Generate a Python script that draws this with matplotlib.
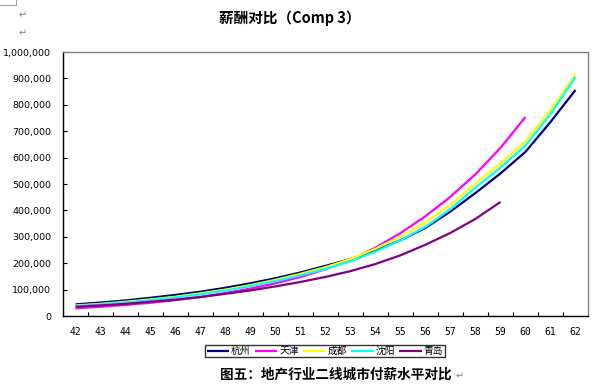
import matplotlib
matplotlib.use("Agg")
import matplotlib.pyplot as plt
from matplotlib.ticker import FuncFormatter, FixedLocator
from matplotlib.lines import Line2D

plt.rcParams['font.family'] = ['Noto Sans CJK SC', 'DejaVu Sans']

# ages on the category axis
ages = list(range(42, 63))

# salary values (one list per city)
hangzhou = [44000, 51000, 59000, 69000, 80000, 92000, 107000, 124000, 143000, 165000,
            190000, 216000, 248000, 287000, 334000, 396000, 466000, 540000, 622000, 735000, 856000]
tianjin = [29000, 35000, 42000, 50000, 60000, 72000, 87000, 104000, 124000, 148000,
           177000, 213000, 259000, 314000, 378000, 452000, 537000, 637000, 754000]
chengdu = [40000, 46000, 54000, 63000, 73000, 86000, 100000, 117000, 137000, 160000,
           185000, 216000, 255000, 301000, 355000, 422000, 503000, 578000, 662000, 780000, 917000]
shenyang = [38000, 44000, 51000, 60000, 70000, 82000, 96000, 113000, 132000, 154000,
            178000, 207000, 244000, 287000, 338000, 405000, 487000, 562000, 646000, 765000, 905000]
qingdao = [35000, 40000, 46000, 54000, 62000, 72000, 84000, 97000, 112000, 129000,
           148000, 170000, 197000, 230000, 270000, 315000, 368000, 432000]

names = ['杭州', '天津', '成都', '沈阳', '青岛']
colors = ['#000080', '#FF00FF', '#FFFF00', '#00FFFF', '#800080']
series = [hangzhou, tianjin, chengdu, shenyang, qingdao]

W, H = 601, 391
fig = plt.figure(figsize=(W / 100, H / 100), dpi=100)
ax = fig.add_axes([63 / W, (H - 316) / H, 525 / W, 264 / H])

for name, col, vals in zip(names, colors, series):
    ax.plot(ages[:len(vals)], vals, color=col, lw=1.6, label=name, solid_capstyle='butt')

ax.set_xlim(41.5, 62.5)
ax.set_ylim(0, 1000000)

# category labels without ticks, ticks on the category borders
ax.set_xticks(ages)
ax.set_xticklabels([str(a) for a in ages], fontsize=7, family='DejaVu Sans Mono')
ax.tick_params(axis='x', which='major', length=0, pad=8)
ax.xaxis.set_minor_locator(FixedLocator([a + 0.5 for a in range(41, 62)]))
ax.tick_params(axis='x', which='minor', direction='in', length=3, width=0.8)

ax.set_yticks(range(0, 1000001, 100000))
ax.yaxis.set_major_formatter(FuncFormatter(lambda v, p: f"{int(v):,}"))
ax.tick_params(axis='y', direction='in', length=3, width=0.8, labelsize=6.8, pad=8.6)
for lab in ax.get_yticklabels():
    lab.set_family('DejaVu Sans')

for s in ['left', 'bottom']:
    ax.spines[s].set_color('black')
    ax.spines[s].set_linewidth(1.0)
for s in ['top', 'right']:
    ax.spines[s].set_color('#808080')
    ax.spines[s].set_linewidth(1.0)

fig.text(290 / W, 1 - 18 / H, '薪酬对比（Comp 3）', ha='center', va='center',
         fontsize=10.5, fontweight='bold')

leg = fig.legend(loc='center', bbox_to_anchor=(325 / W, 1 - 351 / H), ncol=5,
                 fontsize=7, frameon=True, fancybox=False, handlelength=2.3,
                 handletextpad=0.2, columnspacing=0.45, borderpad=0.15,
                 borderaxespad=0)
leg.get_frame().set_edgecolor('black')
leg.get_frame().set_linewidth(1.0)

fig.text(336 / W, 1 - 375 / H, '图五：地产行业二线城市付薪水平对比', ha='center', va='center',
         fontsize=9.8, fontweight='bold')
fig.text(460 / W, 1 - 376 / H, '↵', ha='center', va='center', fontsize=7,
         color='#808080', family='DejaVu Sans')

# little paragraph marks and the page corner mark at the top left
for y in (15, 33):
    fig.text(23 / W, 1 - y / H, '↵', ha='center', va='center', fontsize=7,
             color='#808080', family='DejaVu Sans')
fig.add_artist(Line2D([0, 16 / W], [1 - 5 / H, 1 - 5 / H], color='#a0a0a0', lw=0.8))
fig.add_artist(Line2D([16 / W, 16 / W], [1, 1 - 5 / H], color='#a0a0a0', lw=0.8))

fig.savefig('out.png', dpi=100)
